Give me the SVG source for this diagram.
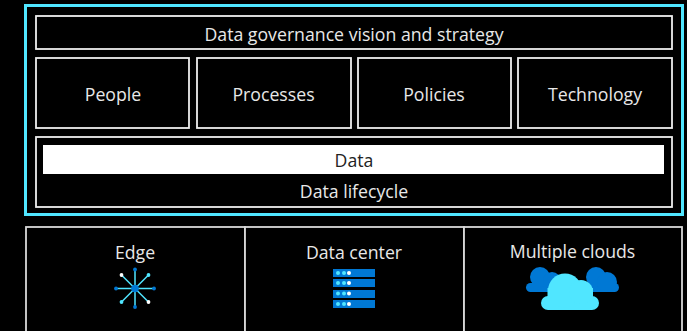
<svg xmlns="http://www.w3.org/2000/svg" width="687" height="331" viewBox="0 0 687 331">
<style>
.box{fill:#000;stroke:#eee;stroke-width:1.800}
.low{fill:#000;stroke:#d9d9d9;stroke-width:1.800}
.t{font-family:"Open Sans","Noto Sans",sans-serif;font-size:17.7px;fill:#e8e8e8;text-anchor:middle}
.d{fill:#50e6ff}.w{fill:#fff}.b{fill:#0078d4}
.l{stroke:#50e6ff;stroke-width:1.500}
</style>
<rect width="687" height="331" fill="#000"/>
<g id="governance-frame"><rect x="25.500" y="5.500" width="657" height="209" fill="#000" stroke="#50e6ff" stroke-width="3"/></g>
<g id="vision"><rect class="box" x="36" y="16" width="636" height="33"/><text class="t" x="354" y="41">Data governance vision and strategy</text></g>
<g id="people"><rect class="box" x="36" y="58" width="153" height="70"/><text class="t" x="113" y="101">People</text></g>
<g id="processes"><rect class="box" x="197" y="58" width="154" height="70"/><text class="t" x="273.500" y="101">Processes</text></g>
<g id="policies"><rect class="box" x="358" y="58" width="153" height="70"/><text class="t" x="434" y="101">Policies</text></g>
<g id="technology"><rect class="box" x="518" y="58" width="154" height="70"/><text class="t" x="595" y="101">Technology</text></g>
<g id="lifecycle"><rect class="box" x="36" y="137" width="636" height="70"/><text class="t" x="354" y="198">Data lifecycle</text></g>
<g id="data"><rect x="43" y="145" width="621" height="29" fill="#fff"/><text class="t" x="354" y="167" style="fill:#222">Data</text></g>
<g id="edge"><rect class="low" x="26" y="227" width="219" height="105"/><text class="t" x="135" y="259">Edge</text>
<g class="l"><path d="M135 270V307M116 288.500H154M121.500 275L148.500 302M148.500 275L121.500 302"/></g>
<circle class="b" cx="135" cy="288.500" r="3.800"/>
<circle class="b" cx="135" cy="269.500" r="1.900"/><circle class="b" cx="135" cy="307" r="1.900"/><circle class="b" cx="116" cy="288.500" r="1.900"/><circle class="b" cx="154" cy="288.500" r="1.900"/>
<circle class="w" cx="121.500" cy="275" r="1.900"/><circle class="d" cx="148.500" cy="275" r="1.900"/><circle class="d" cx="121.500" cy="302" r="1.900"/><circle class="w" cx="148.500" cy="302" r="1.900"/></g>
<g id="data-center"><rect class="low" x="245" y="227" width="219" height="105"/><text class="t" x="354" y="259">Data center</text>
<g class="b"><rect x="333" y="269" width="42" height="8"/><rect x="333" y="279" width="42" height="8"/><rect x="333" y="290" width="42" height="8"/><rect x="333" y="300" width="42" height="8"/></g>
<g class="d"><circle cx="338" cy="273" r="2"/><circle cx="344" cy="273" r="2"/><circle cx="338" cy="283" r="2"/><circle cx="344" cy="283" r="2"/><circle cx="338" cy="293.500" r="2"/><circle cx="344" cy="293.500" r="2"/><circle cx="338" cy="304" r="2"/><circle cx="344" cy="304" r="2"/></g>
<g class="w"><circle cx="349" cy="273" r="2"/><circle cx="349" cy="283" r="2"/><circle cx="349" cy="293.500" r="2"/><circle cx="349" cy="304" r="2"/></g></g>
<g id="clouds"><rect class="low" x="464" y="227" width="218" height="105"/><text class="t" x="572.500" y="258">Multiple clouds</text>
<g class="b"><rect x="526" y="283" width="42" height="9" rx="4.500"/><circle cx="540" cy="277" r="10"/><circle cx="552" cy="281" r="9"/></g>
<g class="b"><rect x="584" y="283" width="35" height="9" rx="4.500"/><circle cx="596" cy="277" r="10"/><circle cx="607" cy="282" r="10"/></g>
<g class="d"><rect x="541" y="296" width="58" height="14" rx="7"/><rect x="547.500" y="288" width="45.500" height="12"/><circle cx="565" cy="290.500" r="17"/><circle cx="581" cy="292" r="12"/></g></g>
</svg>
